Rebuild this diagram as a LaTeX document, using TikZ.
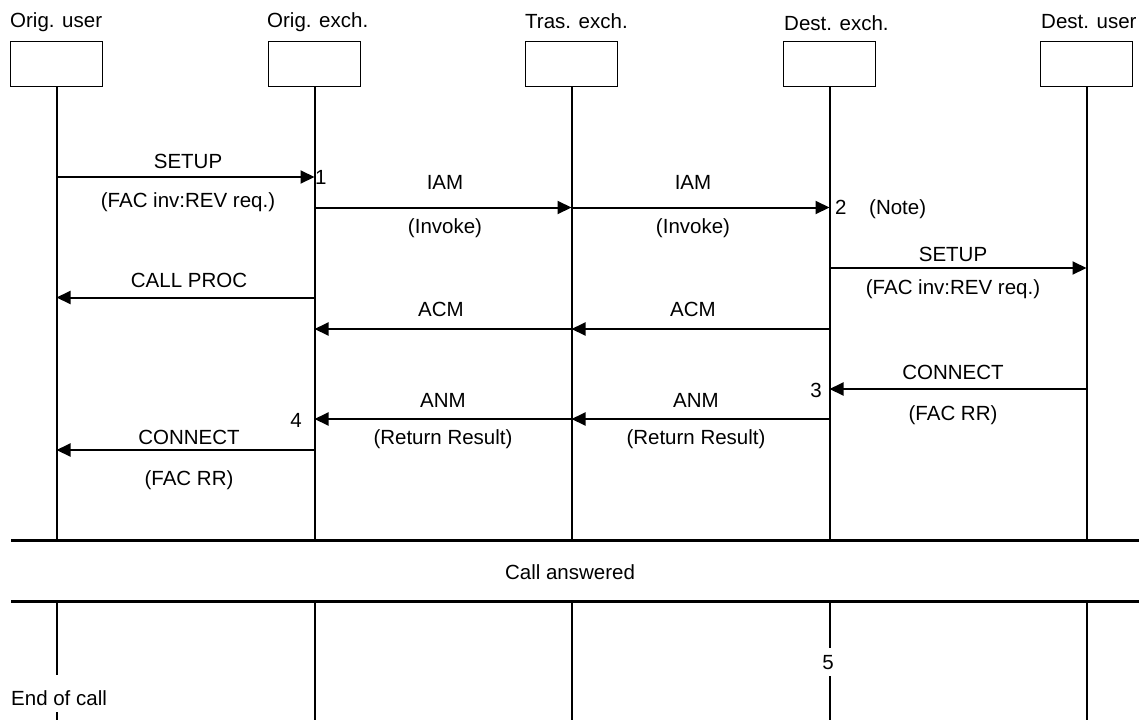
\documentclass[tikz,border=0pt]{standalone}
\usepackage{fontspec}
\setmainfont{Liberation Sans}
\usetikzlibrary{arrows.meta}
\begin{document}
\begin{tikzpicture}[x=1pt,y=-1pt,
  every node/.style={inner sep=0pt,font=\fontsize{20.5}{24}\selectfont},
  ent/.style={draw,line width=1pt,minimum width=92pt,minimum height=45pt,anchor=north west},
  ttl/.style={anchor=base west},
  lab/.style={anchor=base},
  life/.style={line width=2pt},
  msg/.style={line width=2pt,-{Triangle[length=14pt,width=13pt]}},
  sep/.style={line width=3pt}]
\useasboundingbox (0,0) rectangle (1139,720);
% entities
\node[ent] (ou) at (10,41) {};
\node[ent] (oe) at (268,41) {};
\node[ent] (te) at (525,41) {};
\node[ent] (de) at (783,41) {};
\node[ent] (du) at (1040,41) {};
\node[ttl] (tou) at (10,27.5) {Orig. user};
\node[ttl] (toe) at (267,27.5) {Orig. exch.};
\node[ttl] (tte) at (525,28) {Tras. exch.};
\node[ttl] (tde) at (784,30.5) {Dest. exch.};
\node[ttl] (tdu) at (1041,28) {Dest. user};
% reference coordinates
\coordinate (top) at (0,86);
\coordinate (s1) at (0,540);
\coordinate (s2) at (0,601);
\coordinate (bot) at (0,720);
\coordinate (ll) at (11,0);
\coordinate (rr) at (1139,0);
% lifelines
\foreach \e in {ou,oe,te,de,du}{
  \draw[life] (\e.south) -- (\e.south |- s1);
}
\draw[life] (ou.south |- s2) -- (ou.south |- 0,675);
\draw[life] (ou.south |- 0,712) -- (ou.south |- bot);
\draw[life] (oe.south |- s2) -- (oe.south |- bot);
\draw[life] (te.south |- s2) -- (te.south |- bot);
\draw[life] (de.south |- s2) -- (de.south |- 0,648);
\draw[life] (de.south |- 0,676) -- (de.south |- bot);
\draw[life] (du.south |- s2) -- (du.south |- bot);
% separators
\draw[sep] (ll |- s1) -- (rr |- s1);
\draw[sep] (ll |- s2) -- (rr |- s2);
\node[lab] (ca) at (570,579.5) {Call answered};
\node[lab] (n5) at (828,669) {5};
\node[anchor=base west] (eoc) at (11,705) {End of call};
% message rows
\coordinate (m1) at (0,177);
\coordinate (m2) at (0,207.5);
\coordinate (m3) at (0,268);
\coordinate (m4) at (0,297.5);
\coordinate (m5) at (0,329);
\coordinate (m6) at (0,389);
\coordinate (m7) at (0,419);
\coordinate (m8) at (0,450);
% messages
\draw[msg] (ou.south |- m1) -- (oe.south |- m1);
\node[lab] (l1a) at (188,168) {SETUP};
\node[lab] (l1b) at (188,207) {(FAC inv:REV req.)};
\node[anchor=base west] (n1) at (315,184) {1};

\draw[msg] (oe.south |- m2) -- (te.south |- m2);
\node[lab] (l2a) at (445,189) {IAM};
\node[lab] (l2b) at (445,233) {(Invoke)};
\draw[msg] (te.south |- m2) -- (de.south |- m2);
\node[lab] (l3a) at (693,189) {IAM};
\node[lab] (l3b) at (693,233) {(Invoke)};
\node[anchor=base west] (n2) at (835,214.5) {2};
\node[anchor=base west] (nn) at (869,214.5) {(Note)};

\draw[msg] (de.south |- m3) -- (du.south |- m3);
\node[lab] (l4a) at (953,261) {SETUP};
\node[lab] (l4b) at (953,294) {(FAC inv:REV req.)};

\draw[msg] (oe.south |- m4) -- (ou.south |- m4);
\node[lab] (l5a) at (189,287) {CALL PROC};

\draw[msg] (te.south |- m5) -- (oe.south |- m5);
\node[lab] (l6a) at (441,316) {ACM};
\draw[msg] (de.south |- m5) -- (te.south |- m5);
\node[lab] (l7a) at (693,316) {ACM};

\draw[msg] (du.south |- m6) -- (de.south |- m6);
\node[lab] (l8a) at (953,379.5) {CONNECT};
\node[lab] (l8b) at (953,420) {(FAC RR)};
\node[anchor=base east] (n3) at (822,397.5) {3};

\draw[msg] (te.south |- m7) -- (oe.south |- m7);
\node[lab] (l9a) at (443,407.5) {ANM};
\node[lab] (l9b) at (443,444) {(Return Result)};
\node[anchor=base east] (n4) at (302,427) {4};
\draw[msg] (de.south |- m7) -- (te.south |- m7);
\node[lab] (l10a) at (696,407.5) {ANM};
\node[lab] (l10b) at (696,444) {(Return Result)};

\draw[msg] (oe.south |- m8) -- (ou.south |- m8);
\node[lab] (l11a) at (189,444.5) {CONNECT};
\node[lab] (l11b) at (189,485) {(FAC RR)};
\end{tikzpicture}
\end{document}
